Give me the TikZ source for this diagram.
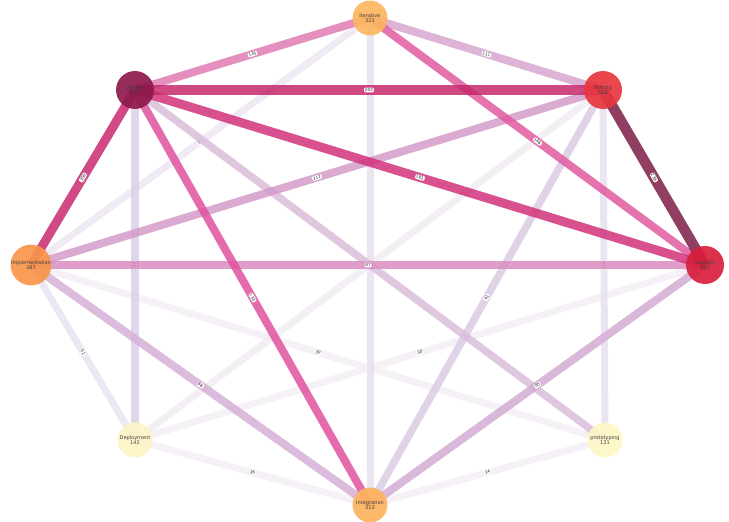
\documentclass[tikz,border=0pt]{standalone}
\usepackage{fontspec}
\setmainfont{DejaVu Sans}
\pgfdeclarelayer{bg}
\pgfsetlayers{bg,main}
\begin{document}
\begin{tikzpicture}[x=1pt,y=-1pt,
  vtx/.style={circle,inner sep=0pt,minimum size=#1,fill opacity=0.92,text opacity=1,align=center,text=black!75,font=\fontsize{5}{5.6}\selectfont},
  edg/.style={line width=#1,draw opacity=0.85},
  lab/.style={fill=white,rounded corners=1pt,inner sep=0.8pt,sloped,pos=0.5,font=\fontsize{4.2}{4.4}\selectfont,text=black!85,fill opacity=1}]
\useasboundingbox (0,0) rectangle (729,522);
\definecolor{cIter}{HTML}{FDB660}
\definecolor{cDes}{HTML}{8E1A4C}
\definecolor{cTest}{HTML}{E8363F}
\definecolor{cImpl}{HTML}{F8954A}
\definecolor{cAna}{HTML}{D81F3D}
\definecolor{cDep}{HTML}{FDF5C5}
\definecolor{cProt}{HTML}{FDF7C6}
\definecolor{cInt}{HTML}{FDB35E}
% nodes
\node[vtx=35pt,fill=cIter] (it) at (370,18) {Iterative\\321};
\node[vtx=38pt,fill=cDes] (de) at (135,90) {Design\\647};
\node[vtx=38pt,fill=cTest] (te) at (603,90) {Testing\\528};
\node[vtx=40pt,fill=cImpl] (im) at (31,265) {Implementation\\387};
\node[vtx=38pt,fill=cAna] (an) at (705,265) {Analysis\\557};
\node[vtx=35pt,fill=cDep] (dp) at (135,440) {Deployment\\142};
\node[vtx=35pt,fill=cProt] (pr) at (605,440) {prototyping\\131};
\node[vtx=35pt,fill=cInt] (in) at (370,505) {Integration\\313};
\begin{pgfonlayer}{bg}
% very light edges
\draw[edg=7,draw={rgb,255:red,243;green,238;blue,244}] (im.center) -- node[lab]{30} (pr.center);
\draw[edg=7,draw={rgb,255:red,243;green,238;blue,244}] (an.center) -- node[lab]{30} (dp.center);
\draw[edg=7,draw={rgb,255:red,243;green,238;blue,245}] (dp.center) -- node[lab]{36} (in.center);
\draw[edg=7,draw={rgb,255:red,243;green,238;blue,245}] (pr.center) -- node[lab]{34} (in.center);
\draw[edg=7,draw={rgb,255:red,241;green,236;blue,243}] (te.center) -- (dp.center);
\draw[edg=7,draw={rgb,255:red,233;green,227;blue,240}] (im.center) -- node[lab]{51} (dp.center);
\draw[edg=7,draw={rgb,255:red,230;green,224;blue,238}] (te.center) -- node[lab]{40} (pr.center);
\draw[edg=7,draw={rgb,255:red,236;green,230;blue,241}] (it.center) -- node[lab]{91} (im.center);
\draw[edg=7,draw={rgb,255:red,230;green,225;blue,239}] (it.center) -- (in.center);
% light purple edges
\draw[edg=7.5,draw={rgb,255:red,221;green,208;blue,230}] (de.center) -- node[lab]{88} (dp.center);
\draw[edg=7.5,draw={rgb,255:red,220;green,203;blue,227}] (te.center) -- node[lab]{41} (in.center);
\draw[edg=7.5,draw={rgb,255:red,217;green,189;blue,219}] (de.center) -- (pr.center);
\draw[edg=8,draw={rgb,255:red,214;green,176;blue,214}] (im.center) -- node[lab]{86} (in.center);
\draw[edg=8,draw={rgb,255:red,212;green,172;blue,212}] (an.center) -- node[lab]{85} (in.center);
\draw[edg=8,draw={rgb,255:red,215;green,166;blue,207}] (it.center) -- node[lab]{111} (te.center);
\draw[edg=8,draw={rgb,255:red,211;green,155;blue,201}] (im.center) -- node[lab]{112} (te.center);
\draw[edg=8.5,draw={rgb,255:red,217;green,141;blue,192}] (im.center) -- node[lab]{87} (an.center);
% pink edges
\draw[edg=8,draw={rgb,255:red,224;green,123;blue,180}] (it.center) -- node[lab]{135} (de.center);
\draw[edg=8,draw={rgb,255:red,225;green,90;blue,160}] (it.center) -- node[lab]{146} (an.center);
\draw[edg=8,draw={rgb,255:red,224;green,82;blue,157}] (de.center) -- node[lab]{133} (in.center);
\draw[edg=9,draw={rgb,255:red,209;green,50;blue,122}] (de.center) -- node[lab]{181} (an.center);
\draw[edg=9,draw={rgb,255:red,201;green,42;blue,112}] (de.center) -- node[lab]{200} (im.center);
\draw[edg=10,draw={rgb,255:red,197;green,40;blue,108}] (de.center) -- node[lab]{204} (te.center);
\draw[edg=10.5,draw={rgb,255:red,124;green,29;blue,71}] (te.center) -- node[lab]{236} (an.center);
\end{pgfonlayer}
\end{tikzpicture}
\end{document}
